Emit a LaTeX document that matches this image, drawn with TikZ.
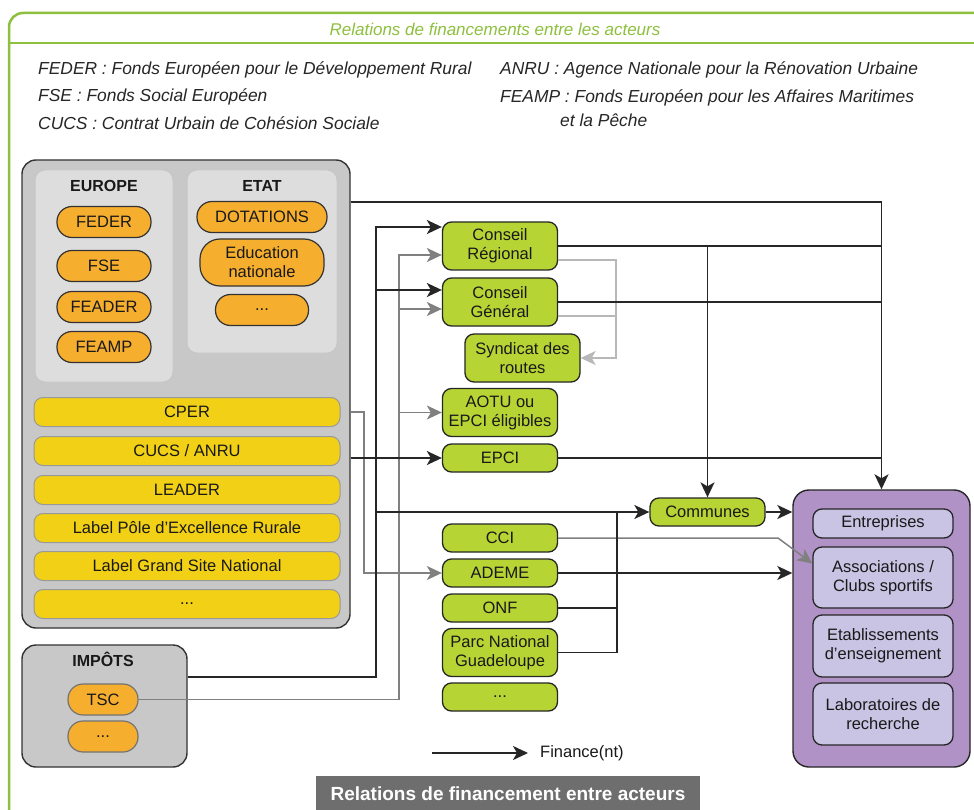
\documentclass[tikz,border=0pt]{standalone}
\usepackage{fontspec}
\setmainfont{Liberation Sans}
\usetikzlibrary{arrows.meta,positioning}
\definecolor{framegreen}{RGB}{141,192,62}
\definecolor{panelgray}{RGB}{200,200,200}
\definecolor{subgray}{RGB}{221,221,221}
\definecolor{fundorange}{RGB}{246,174,47}
\definecolor{progyellow}{RGB}{242,208,22}
\definecolor{actgreen}{RGB}{182,213,52}
\definecolor{benefpurple}{RGB}{176,146,198}
\definecolor{benefpale}{RGB}{201,195,228}
\definecolor{titlegray}{RGB}{110,110,110}
\tikzset{panel/.style={draw=black!80,fill=panelgray,line width=1.4pt,rounded corners=14pt,inner sep=0pt},
         sub panel/.style={draw=black!22,fill=subgray,line width=1pt,rounded corners=10pt,inner sep=0pt},
         head label/.style={font=\fontsize{16}{18}\selectfont\bfseries,text=black!90},
         fund node/.style={draw=black!80,fill=fundorange,line width=1.2pt,rounded corners=15pt,minimum height=31pt,align=center,inner sep=1pt},
         prog node/.style={draw=black!40,fill=progyellow,line width=1pt,rounded corners=9pt,minimum width=306pt,minimum height=29pt,inner sep=0pt},
         act node/.style={draw=black!85,fill=actgreen,line width=1.3pt,rounded corners=9pt,minimum width=115pt,minimum height=28pt,align=center,inner sep=1pt},
         benef node/.style={draw=black!85,fill=benefpale,line width=1.3pt,rounded corners=9pt,minimum width=140pt,align=center,inner sep=1pt},
         legend/.style={anchor=west,font=\fontsize{17.4}{24}\selectfont\itshape,text=black!85,inner sep=0pt,align=left},
         link/.style={line width=1.8pt,black!85},
         fin/.style={link,-{Stealth[length=15pt,width=14pt,inset=4pt]}},
         glink/.style={line width=1.5pt,black!50},
         gfin/.style={glink,-{Stealth[length=15pt,width=14pt,inset=4pt]}},
         lglink/.style={line width=1.5pt,black!28},
         lgfin/.style={lglink,-{Stealth[length=15pt,width=14pt,inset=4pt]}},
}

\begin{document}
\begin{tikzpicture}[x=1pt,y=-1pt,
every node/.style={font=\fontsize{16.5}{19}\selectfont,text=black!90}]
\useasboundingbox (0,0) rectangle (974,810);
\fill[white] (0,0) rectangle (974,810);
% \draw[help lines,step=50] (0,0) grid (974,810);
\draw[framegreen,line width=2.5pt,rounded corners=14pt] (9,812) -- (9,13) -- (974,13);
\draw[framegreen,line width=2.5pt] (9,43) -- (974,43);
\node[font=\fontsize{17}{20}\selectfont\itshape,text=framegreen] (title) at (495,29) {Relations de financements entre les acteurs};
\node[legend] (def feder) at (38,70) {FEDER : Fonds Européen pour le Développement Rural};
\node[legend] (def fse) at (38,97) {FSE : Fonds Social Européen};
\node[legend] (def cucs) at (38,123) {CUCS : Contrat Urbain de Cohésion Sociale};
\node[legend] (def anru) at (500,70) {ANRU : Agence Nationale pour la Rénovation Urbaine};
\node[legend] (def feamp) at (500,108) {FEAMP : Fonds Européen pour les Affaires Maritimes\\\hspace{60pt}et la Pêche};

% financeurs
\node[panel,minimum width=328pt,minimum height=468pt] (public) at (186,394) {};
\node[sub panel,minimum width=138pt,minimum height=212pt] (europe) at (104,276) {};
\node[head label] (europe label) at (104,186) {EUROPE};
\node[fund node,minimum width=94pt] (feder) at (104,222) {FEDER};
\node[fund node,minimum width=94pt] (fse) at (104,266) {FSE};
\node[fund node,minimum width=94pt] (feader) at (104,307) {FEADER};
\node[fund node,minimum width=94pt] (feamp) at (104,347) {FEAMP};
\node[sub panel,minimum width=150pt,minimum height=183pt] (etat) at (262,261.5) {};
\node[head label] (etat label) at (262,186) {ETAT};
\node[fund node,minimum width=130pt] (dotations) at (262,217) {DOTATIONS};
\node[fund node,minimum width=124pt,minimum height=47pt,rounded corners=20pt] (educ) at (262,262.5) {Education\\nationale};
\node[fund node,minimum width=93pt] (etat more) at (262,310) {...};
\node[prog node] (cper) at (187,412) {CPER};
\node[prog node] (cucs) at (187,451) {CUCS / ANRU};
\node[prog node] (leader) at (187,490) {LEADER};
\node[prog node] (per) at (187,528) {Label Pôle d’Excellence Rurale};
\node[prog node] (gsn) at (187,566) {Label Grand Site National};
\node[prog node] (prog more) at (187,604) {...};
\node[panel,minimum width=165pt,minimum height=122pt] (impots) at (104.5,706) {};
\node[head label] (impots label) at (103,659) {IMPÔTS};
\node[fund node,draw=black!55,minimum width=70pt] (tsc) at (103,699.5) {TSC};
\node[fund node,draw=black!55,minimum width=70pt] (impots more) at (103,736.5) {...};

% acteurs
\node[act node,minimum height=48pt] (cr) at (500,246) {Conseil\\Régional};
\node[act node,minimum height=48pt] (cg) at (500,302) {Conseil\\Général};
\node[act node,minimum height=48pt] (syndicat) at (522.5,358) {Syndicat des\\routes};
\node[act node,minimum height=48pt] (aotu) at (500,412.5) {AOTU ou\\EPCI éligibles};
\node[act node] (epci) at (500,458) {EPCI};
\node[act node] (communes) at (707.5,512) {Communes};
\node[act node] (cci) at (500,538) {CCI};
\node[act node] (ademe) at (500,573) {ADEME};
\node[act node] (onf) at (500,608) {ONF};
\node[act node,minimum height=48pt] (parc) at (500,652.5) {Parc National\\Guadeloupe};
\node[act node] (act more) at (500,697) {...};

% beneficiaires
\node[draw=black!85,fill=benefpurple,line width=1.4pt,rounded corners=16pt,minimum width=177pt,minimum height=277pt] (benef) at (881.5,628.5) {};
\node[benef node,minimum height=29pt] (entreprises) at (883,523.5) {Entreprises};
\node[benef node,minimum height=61pt] (assoc) at (883,577.5) {Associations /\\Clubs sportifs};
\node[benef node,minimum height=62pt] (etab) at (883,646) {Etablissements\\d’enseignement};
\node[benef node,minimum height=62pt] (labo) at (883,714) {Laboratoires de\\recherche};

\draw[lgfin] (cr.east |- 0,260) -| (616,358) -- (syndicat.east);
\draw[lglink] (cg.east |- 0,316) -- (616,316);
\draw[gfin] (tsc.east) -| (399,255) -- (cr.west |- 0,255);
\draw[gfin] (399,309) -- (cg.west |- 0,309);
\draw[gfin] (399,412.5) -- (aotu.west);
\draw[gfin] (public.east |- cper.east) -| (364,573) -- (ademe.west);
\draw[gfin] (cci.east) -- (cci.east -| 778,0) -- ([yshift=14pt]assoc.west);

\draw[fin] (public.east |- 0,202) -| (benef.north);
\draw[link] (cr.east) -- (cr.east -| benef.north);
\draw[link] (cg.east) -- (cg.east -| benef.north);
\draw[link] (epci.east) -- (epci.east -| benef.north);
\draw[fin] (cr.east -| communes.north) -- (communes.north);
\draw[fin] (impots.east |- 0,677) -| (376,227) -- (cr.west |- 0,227);
\draw[fin] (376,290) -- (cg.west |- 0,290);
\draw[fin] (376,512) -- (communes.west);
\draw[fin] (public.east |- epci.west) -- (epci.west);
\draw[link] (onf.east) -| (617,512);
\draw[link] (parc.east) -| (617,512);
\draw[fin] (ademe.east) -- (ademe.east -| benef.west);
\draw[fin] (communes.east) -- (communes.east -| benef.west);

\coordinate (legend start) at (432,753);
\node[anchor=west,inner sep=0pt] (finance) at (540,753) {Finance(nt)};
\draw[fin] (legend start) -- ([xshift=-12pt]finance.west);
\node[fill=titlegray,text=white,font=\fontsize{19}{22}\selectfont\bfseries,minimum width=384pt,minimum height=36pt,anchor=north] (caption) at (508,776) {Relations de financement entre acteurs};
\end{tikzpicture}
\end{document}
